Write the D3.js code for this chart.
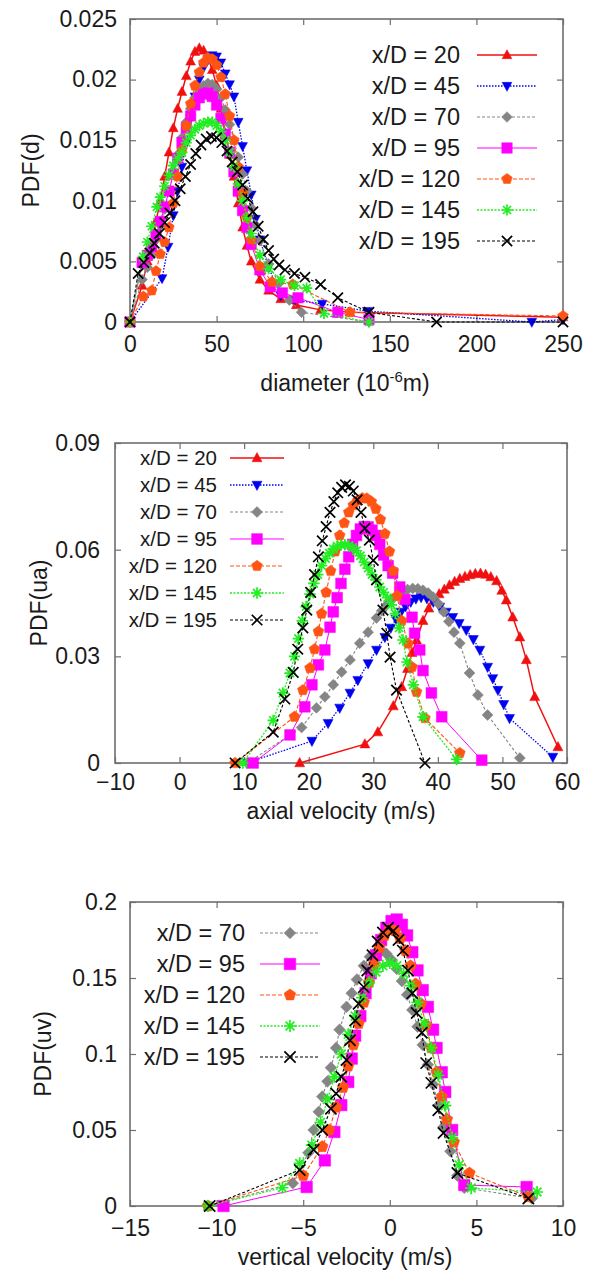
<!DOCTYPE html>
<html lang="en">
<head>
  <meta charset="UTF-8" />
  <title>Droplet PDFs</title>
  <script src="https://cdn.jsdelivr.net/npm/d3@7"></script>
  <style>
    body { margin: 0; background: #fff; }
    svg text { font-family: "Liberation Sans", Arial, sans-serif; fill: #1a1a1a; }
    .tick line { stroke: #6f6f6f; stroke-width: 1.2; }
    .frame { fill: none; stroke: #6f6f6f; stroke-width: 1.6; }
  </style>
</head>
<body>
<svg id="fig" width="595" height="1278"></svg>
<script>
  // ---- data (PDF values in units of 1e-3) ----
  const stations = [20, 45, 70, 95, 120, 145, 195];
  const legendNames = ["x/D = 20", "x/D = 45", "x/D = 70", "x/D = 95", "x/D = 120", "x/D = 145", "x/D = 195"];

  // top panel: PDF(d) vs diameter (1e-6 m)
  const diam20 = [[0,0],[7,3.0],[10,5.0],[12.5,6.5],[15,8.3],[17.5,10],[20,12],[22.5,14],[25,16],[27.5,17.6],[30,19],[32.5,20.3],[35,21.5],[37.5,22.3],[40,22.6],[42.5,22.4],[45,21.8],[47.5,20.8],[50,19.5],[52.5,17.6],[55,15.6],[57.5,13.8],[60,12],[62.5,9.8],[65,7.8],[67.5,6.3],[70,5.0],[75,3.5],[80,2.6],[87,1.9],[96,1.4],[110,1.0],[127,0.8],[250,0.4]];
  const diam45 = [[0,0],[18.5,3.6],[22,6.2],[25,8.8],[27.5,10.8],[30,12.8],[32.5,14.8],[35,16.8],[37.5,18.6],[40,20],[42.5,21],[45,21.7],[47.5,22],[50,21.9],[52.5,21.4],[55,20.5],[57.5,19.6],[60,18.6],[62.5,16.5],[65,14.5],[67.5,12.5],[70,10.5],[72.5,8.5],[75,6.8],[80,4.5],[87,2.2],[95,1.8],[111,1.5],[137,0.9],[232,0],[250,0.2]];
  const diam70 = [[0,0],[7,3.5],[10,4.5],[12.5,5.5],[15,6.8],[17.5,8],[20,9.3],[22.5,10.8],[25,12.3],[27.5,13.8],[30,15.2],[32.5,16.5],[35,17.6],[37.5,18.5],[40,19.1],[42.5,19.5],[45,19.7],[47.5,19.6],[50,19.2],[52.5,18.5],[55,17.5],[57.5,16.3],[60,15],[62.5,13.6],[65,12.2],[67.5,10.8],[70,9.4],[72.5,8.0],[75,6.7],[80,4.8],[86,3.2],[92,1.8],[99,0.8],[138,0]];
  const diam95 = [[0,0],[7,4.9],[10,5.5],[12.5,6.2],[15,7.2],[17.5,8.3],[20,9.5],[22.5,10.8],[25,12.2],[27.5,13.5],[30,14.8],[32.5,16.0],[35,17.0],[37.5,17.9],[40,18.5],[42.5,18.8],[45,18.9],[47.5,18.6],[50,17.9],[52.5,16.8],[55,15.5],[57.5,14],[60,12.4],[62.5,10.8],[65,9.2],[67.5,7.8],[70,6.4],[75,4.3],[81,2.9],[88,2.4],[97,2.0],[120,0.8],[138,0.2]];
  const diam120 = [[0,0],[7.7,2.1],[12.6,2.6],[15,4.2],[17.5,5.6],[20,6.6],[22.5,7.8],[25,9.8],[27.5,12],[30,14.2],[32.5,16.2],[35,18],[37.5,19.5],[40,20.6],[42.5,21.4],[45,21.8],[47.5,21.7],[50,21.2],[52.5,20.2],[55,18.8],[57.5,17],[60,15],[62.5,12.8],[65,10.6],[67.5,8.6],[70,6.8],[75,4.6],[82,3.3],[94,3.1],[127,0.8],[250,0.5]];
  const diam145 = [[0,0],[7.6,5.4],[10,6.6],[12.5,7.9],[15.5,9.5],[17.5,10.3],[20,11.2],[22.5,12.1],[25,12.9],[27.5,13.5],[30,14],[32.5,14.8],[35,15.4],[37.5,15.9],[40,16.2],[42.5,16.4],[45,16.5],[47.5,16.5],[50,16.2],[52.5,15.7],[55,15],[57.5,14],[60,12.8],[62.5,11.4],[65,10],[67.5,8.6],[70,7.3],[75,5.5],[80,4.4],[87,3.5],[95,3.0],[102,2.8],[112,0.7],[138,0]];
  const diam195 = [[0,0],[4.7,4.0],[8,4.9],[11.5,5.7],[14,6.5],[17,7.3],[20,8.2],[23,9.0],[26,10],[29,11],[32,12],[35,13],[38,13.9],[41,14.6],[44,15.1],[47,15.3],[50,15.2],[53,14.8],[56,14.1],[59,13.2],[62,12.4],[65,11.3],[68,10.2],[71,9.1],[74,7.9],[77,6.8],[80,5.9],[83,5.2],[86,4.7],[89.5,4.3],[95,4.0],[101,3.7],[110,3.1],[120,2.0],[138,0.8],[177,0],[250,0]];

  // middle panel: PDF(ua) vs axial velocity (m/s)
  const axial20 = [[18.6,0],[28.7,5.3],[30.7,8.7],[33.1,16],[34.4,21.4],[35.3,26.5],[36,31],[36.7,34.5],[37.7,40],[38.6,43.5],[39.4,45.8],[40.2,47.5],[41,48.8],[41.8,50],[42.6,51],[43.4,51.8],[44.2,52.4],[45,52.9],[45.8,53.2],[46.6,53.3],[47.4,53],[48.2,52.3],[49.1,51.2],[49.9,48.5],[50.6,45.8],[51.6,41],[52.7,35.4],[53.7,29],[55,18.6],[58.6,4.5]];
  const axial45 = [[10.4,0],[20.5,6.2],[23,11.2],[24.8,15.5],[26.4,19.7],[27.6,23.3],[29.2,28],[30.5,31.8],[31.8,35.4],[32.7,38],[33.5,40.5],[34.3,42.5],[35,44],[35.8,45.3],[36.6,46.2],[37.4,46.6],[38.3,46.3],[39.3,45.3],[40.3,43.9],[41.3,42.5],[42.3,41],[43.3,39.3],[44.4,37.4],[45.5,34.8],[46.5,31.8],[47.7,27],[48.5,23.8],[49.3,20.5],[50.2,16.5],[51.1,12.6],[57.8,1.7]];
  const axial70 = [[10.5,0],[18.9,10],[21.2,15.5],[22.5,18.6],[23.8,22],[25.1,25.6],[26.4,29],[27.9,33.7],[29.2,36.8],[30.5,40.8],[31.3,42.8],[32.1,44.5],[32.9,46],[33.7,47.2],[34.5,48.2],[35.3,48.8],[36.1,49.1],[36.9,49],[37.7,48.6],[38.5,47.8],[39.3,46.6],[40.1,44.8],[40.9,42.5],[41.7,39.8],[42.5,36.8],[43.4,33.7],[44.9,25.3],[46.2,19.1],[47.7,13.5],[52.7,1.4]];
  const axial95 = [[11.4,0],[17.1,7.9],[19.4,15.8],[20.5,22],[21.5,27.6],[22.5,31.8],[23.3,38.2],[23.8,42.5],[24.4,46.5],[25,50.5],[25.6,54.5],[26.2,58],[26.8,61.5],[27.4,64],[28,65.8],[28.6,66.5],[29.2,66.4],[29.8,65.5],[30.4,64],[31,61.5],[31.6,58.5],[32.3,55.5],[33,53.4],[34.1,49.5],[34.9,46],[36,41],[36.4,36.5],[37.2,31.8],[37.7,26],[39,19.7],[40.6,13],[46.8,0.8]];
  const axial120 = [[8.6,0],[17.8,13],[19.1,20.5],[20.2,26.7],[20.9,32],[21.5,37],[22,42],[22.7,48],[23.4,54],[24.1,59.5],[24.8,64],[25.5,67.5],[26.2,70.5],[26.9,72.5],[27.6,73.8],[28.3,74.5],[29,74.4],[29.7,73.5],[30.4,71.5],[31.1,68.5],[31.8,64.5],[32.5,59.5],[33.1,54],[33.7,47],[34.4,40],[35.4,33.6],[36,27],[36.7,20],[38,12.6],[43.4,2.8]];
  const axial145 = [[9.8,0],[14.5,12],[16,19.7],[17.1,25.3],[17.8,30],[18.4,35],[19,40],[19.6,44],[20.2,47.5],[20.8,50.5],[21.4,53],[22,55.5],[22.6,57.5],[23.2,59],[23.8,60.2],[24.4,61],[25,61.3],[25.6,61.4],[26.2,61.2],[26.8,60.6],[27.4,59.7],[28,58.3],[28.6,56.5],[29.2,54.8],[29.8,53],[30.4,51.5],[31,49.5],[31.6,48],[32.2,46.5],[32.8,44.5],[33.4,42],[34,38],[34.6,34.6],[35.2,28.4],[36.2,22],[37.7,13],[42.9,1]];
  const axial195 = [[8.6,0],[14.5,8.7],[16.3,18],[17.6,25.5],[18.3,32],[19.1,38],[19.7,43],[20.3,48],[20.9,53],[21.5,58],[22.1,62.5],[22.7,66.5],[23.3,70.5],[23.9,73.5],[24.5,76],[25.1,77.5],[25.7,78.2],[26.3,77.8],[26.9,76.5],[27.5,74],[28.1,70.5],[28.7,66],[29.4,62.7],[30,57],[30.5,51.5],[31.5,43],[32.1,36.5],[32.6,29.8],[33.6,20.5],[38,0]];

  // bottom panel: PDF(uv) vs vertical velocity (m/s)
  const vert70 = [[-10.5,0],[-5.6,15],[-4.7,35],[-4.4,50],[-4.1,62],[-3.9,72],[-3.6,82],[-3.4,91],[-3.1,104],[-2.9,116],[-2.5,131],[-2.2,140],[-1.9,149],[-1.5,158],[-1.15,164],[-0.8,167],[-0.5,168],[-0.2,166],[0.1,162],[0.4,156],[0.7,148],[1.0,139],[1.3,129],[1.6,118],[1.9,106],[2.2,93],[2.5,80],[2.8,66],[3.1,52],[3.5,36],[3.9,20],[4.3,12],[8.2,5]];
  const vert95 = [[-9.6,0],[-4.8,12.5],[-3.75,30],[-3.2,48.7],[-2.8,66.4],[-2.4,81.6],[-2.2,97],[-2.0,112],[-1.7,125],[-1.4,140],[-1.1,153],[-0.8,165],[-0.5,175],[-0.2,183],[0.1,187.5],[0.4,188.5],[0.7,185],[1.0,178],[1.3,167],[1.6,155],[1.9,142],[2.2,131],[2.5,116],[2.7,104],[3.0,88],[3.2,75],[3.6,50],[4.3,13.8],[7.9,12.5]];
  const vert120 = [[-10.5,0],[-5.0,20],[-3.9,39],[-3.5,50],[-3.1,65],[-2.7,78],[-2.4,92],[-2.1,106],[-1.8,120],[-1.5,134],[-1.2,147],[-0.9,159],[-0.6,170],[-0.3,178],[0,182],[0.3,181],[0.6,176],[0.9,168],[1.2,158],[1.5,146],[1.8,133],[2.1,119],[2.4,104],[2.7,88],[3.0,72],[3.3,57],[3.7,42],[4.6,21.7],[8.0,6]];
  const vert145 = [[-10.5,0],[-6.2,12],[-5.2,28],[-4.5,40],[-4.0,55],[-3.6,70],[-3.2,85],[-2.8,100],[-2.4,113],[-2.0,125],[-1.6,137],[-1.2,147],[-0.8,154],[-0.4,158],[0,160],[0.4,158],[0.8,153],[1.2,145],[1.6,134],[2.0,120],[2.4,104],[2.8,86],[3.2,66],[3.6,45],[4.0,27],[4.7,11.8],[8.5,9.2]];
  const vert195 = [[-10.4,0],[-5.2,23.7],[-4.4,37],[-3.9,50],[-3.4,64],[-3.1,74],[-2.8,85],[-2.5,96],[-2.3,109],[-2.0,122],[-1.8,133],[-1.5,144],[-1.3,155],[-1.0,165],[-0.7,174],[-0.4,180],[-0.1,183],[0.2,181],[0.5,175],[0.75,168],[1.05,155],[1.3,140],[1.55,127],[1.85,114],[2.1,94],[2.4,81],[2.8,63],[3.1,48],[3.9,21.7],[8.0,5]];

  // ticks
  const diamTicks = [0, 50, 100, 150, 200, 250];
  const pdfDTicks = [0, 5, 10, 15, 20, 25];
  const pdfDLabels = ["0", "0.005", "0.01", "0.015", "0.02", "0.025"];
  const axialTicks = [-10, 0, 10, 20, 30, 40, 50, 60];
  const pdfUaTicks = [0, 30, 60, 90];
  const pdfUaLabels = ["0", "0.03", "0.06", "0.09"];
  const vertTicks = [-15, -10, -5, 0, 5, 10];
  const pdfUvTicks = [0, 50, 100, 150, 200];
  const pdfUvLabels = ["0", "0.05", "0.1", "0.15", "0.2"];

  // ---- marker shapes (d3 custom symbol types) ----
  const triUp = { draw(c, s) { const r = Math.sqrt(s) / 2; c.moveTo(0, -1.1 * r); c.lineTo(r, 0.75 * r); c.lineTo(-r, 0.75 * r); c.closePath(); } };
  const triDown = { draw(c, s) { const r = Math.sqrt(s) / 2; c.moveTo(0, 1.1 * r); c.lineTo(r, -0.75 * r); c.lineTo(-r, -0.75 * r); c.closePath(); } };
  const diamond = { draw(c, s) { const r = Math.sqrt(s) / 2; c.moveTo(0, -r); c.lineTo(r, 0); c.lineTo(0, r); c.lineTo(-r, 0); c.closePath(); } };
  const square = { draw(c, s) { const r = Math.sqrt(s) / 2; c.rect(-r, -r, 2 * r, 2 * r); } };
  const pentagon = {
    draw(c, s) {
      const r = Math.sqrt(s) / 2;
      for (let i = 0; i < 5; i++) {
        const a = -Math.PI / 2 + i * 2 * Math.PI / 5;
        if (i === 0) c.moveTo(r * Math.cos(a), r * Math.sin(a));
        else c.lineTo(r * Math.cos(a), r * Math.sin(a));
      }
      c.closePath();
    }
  };
  const star = {
    draw(c, s) {
      const r = Math.sqrt(s) / 2, q = r * 0.72;
      c.moveTo(-r, 0); c.lineTo(r, 0); c.moveTo(0, -r); c.lineTo(0, r);
      c.moveTo(-q, -q); c.lineTo(q, q); c.moveTo(-q, q); c.lineTo(q, -q);
    }
  };
  const cross = { draw(c, s) { const r = Math.sqrt(s) / 2; c.moveTo(-r, -r); c.lineTo(r, r); c.moveTo(-r, r); c.lineTo(r, -r); } };

  // style per station
  const styles = {
    20:  { color: "#f01010", sym: triUp,    size: 100, dash: null,      lw: 1.5, stroked: false },
    45:  { color: "#0000f0", sym: triDown,  size: 100, dash: "1.5,1.5", lw: 1.3, stroked: false },
    70:  { color: "#858585", sym: diamond,  size: 120, dash: "3,2",     lw: 1.1, stroked: false },
    95:  { color: "#ff00ff", sym: square,   size: 115, dash: null,      lw: 1.0, stroked: false },
    120: { color: "#ff5414", sym: pentagon, size: 130, dash: "4,2",     lw: 1.1, stroked: false },
    145: { color: "#22ee22", sym: star,     size: 130, dash: "2,1.5",   lw: 1.3, stroked: true },
    195: { color: "#000000", sym: cross,    size: 110, dash: "3,2",     lw: 1.1, stroked: true }
  };

  const svg = d3.select("#fig");
  svg.append("rect").attr("width", 595).attr("height", 1278).attr("fill", "#fff");

  function drawMarkers(g, pts, st, scale) {
    g.selectAll(null).data(pts).join("path")
      .attr("transform", d => `translate(${d[0]},${d[1]})`)
      .attr("d", d3.symbol().type(st.sym).size(st.size * scale))
      .attr("fill", st.stroked ? "none" : st.color)
      .attr("stroke", st.color)
      .attr("stroke-width", st.stroked ? 1.7 : 0.5);
  }

  function panel(cfg) {
    const g = svg.append("g");
    const x = d3.scaleLinear().domain(cfg.xDom).range([cfg.left, cfg.right]);
    const y = d3.scaleLinear().domain(cfg.yDom).range([cfg.bottom, cfg.top]);

    // axes with inward ticks on all four sides
    const ax = g.append("g");
    ax.append("g").attr("transform", `translate(0,${cfg.bottom})`)
      .call(d3.axisBottom(x).tickValues(cfg.xTicks).tickSizeInner(-6).tickSizeOuter(0).tickPadding(cfg.xPad));
    ax.append("g").attr("transform", `translate(0,${cfg.top})`)
      .call(d3.axisTop(x).tickValues(cfg.xTicks).tickSizeInner(-6).tickSizeOuter(0).tickFormat(""));
    ax.append("g").attr("transform", `translate(${cfg.left},0)`)
      .call(d3.axisLeft(y).tickValues(cfg.yTicks).tickFormat((d, i) => cfg.yLabels[i])
        .tickSizeInner(-6).tickSizeOuter(0).tickPadding(cfg.yPad));
    ax.append("g").attr("transform", `translate(${cfg.right},0)`)
      .call(d3.axisRight(y).tickValues(cfg.yTicks).tickSizeInner(-6).tickSizeOuter(0).tickFormat(""));
    ax.selectAll(".domain").remove();
    ax.selectAll("text").attr("fill", "#1a1a1a")
      .style("font-family", "'Liberation Sans', Arial, sans-serif").style("font-size", "23px");

    g.append("rect").attr("class", "frame")
      .attr("x", cfg.left).attr("y", cfg.top)
      .attr("width", cfg.right - cfg.left).attr("height", cfg.bottom - cfg.top);

    // curves
    const line = d3.line().x(d => x(d[0])).y(d => y(d[1]));
    cfg.series.forEach(s => {
      const st = styles[s.station];
      g.append("path").datum(s.values)
        .attr("d", line).attr("fill", "none")
        .attr("stroke", st.color).attr("stroke-width", st.lw)
        .attr("stroke-dasharray", st.dash);
      drawMarkers(g.append("g"), s.values.map(d => [x(d[0]), y(d[1])]), st, cfg.mScale);
    });

    // legend
    const lg = g.append("g");
    cfg.series.forEach((s, i) => {
      const st = styles[s.station];
      const yy = cfg.leg.y0 + i * cfg.leg.step;
      lg.append("text").attr("x", cfg.leg.tx).attr("y", yy).attr("dy", "0.36em")
        .attr("text-anchor", "end").style("font-size", cfg.leg.fs + "px")
        .text(legendNames[stations.indexOf(s.station)]);
      lg.append("line").attr("x1", cfg.leg.x1).attr("x2", cfg.leg.x2).attr("y1", yy).attr("y2", yy)
        .attr("stroke", st.color).attr("stroke-width", st.lw).attr("stroke-dasharray", st.dash);
      drawMarkers(lg.append("g"), [[(cfg.leg.x1 + cfg.leg.x2) / 2, yy]], st, cfg.mScale);
    });

    // axis titles
    g.append("text").attr("transform", `translate(${cfg.yTitleX},${(cfg.top + cfg.bottom) / 2}) rotate(-90)`)
      .attr("text-anchor", "middle").attr("dy", "0.36em").style("font-size", "23px").text(cfg.yTitle);
    const xt = g.append("text").attr("x", cfg.xTitleX).attr("y", cfg.xTitleY + 8)
      .attr("text-anchor", "middle").style("font-size", "23px");
    cfg.xTitle(xt);
  }

  panel({
    left: 130, right: 563, top: 19, bottom: 322,
    xDom: [0, 250], yDom: [0, 25], xTicks: diamTicks, yTicks: pdfDTicks, yLabels: pdfDLabels,
    xPad: 14, yPad: 13, mScale: 0.95,
    series: [
      { station: 20, values: diam20 }, { station: 45, values: diam45 }, { station: 70, values: diam70 },
      { station: 95, values: diam95 }, { station: 120, values: diam120 }, { station: 145, values: diam145 },
      { station: 195, values: diam195 }
    ],
    leg: { tx: 460, x1: 477, x2: 537, y0: 55, step: 31, fs: 23.5 },
    yTitle: "PDF(d)", yTitleX: 31,
    xTitleX: 345, xTitleY: 383,
    xTitle: t => {
      t.append("tspan").text("diameter (10");
      t.append("tspan").attr("dy", -9).style("font-size", "15px").text("-6");
      t.append("tspan").attr("dy", 9).text("m)");
    }
  });

  panel({
    left: 115, right: 567, top: 443, bottom: 763,
    xDom: [-10, 60], yDom: [0, 90], xTicks: axialTicks, yTicks: pdfUaTicks, yLabels: pdfUaLabels,
    xPad: 11, yPad: 15, mScale: 1,
    series: [
      { station: 20, values: axial20 }, { station: 45, values: axial45 }, { station: 70, values: axial70 },
      { station: 95, values: axial95 }, { station: 120, values: axial120 }, { station: 145, values: axial145 },
      { station: 195, values: axial195 }
    ],
    leg: { tx: 217, x1: 230, x2: 284, y0: 458, step: 27, fs: 20.5 },
    yTitle: "PDF(ua)", yTitleX: 39,
    xTitleX: 341, xTitleY: 811,
    xTitle: t => t.text("axial velocity (m/s)")
  });

  panel({
    left: 130, right: 563, top: 902, bottom: 1206,
    xDom: [-15, 10], yDom: [0, 200], xTicks: vertTicks, yTicks: pdfUvTicks, yLabels: pdfUvLabels,
    xPad: 14, yPad: 13, mScale: 1.15,
    series: [
      { station: 70, values: vert70 }, { station: 95, values: vert95 }, { station: 120, values: vert120 },
      { station: 145, values: vert145 }, { station: 195, values: vert195 }
    ],
    leg: { tx: 245, x1: 260, x2: 320, y0: 933, step: 31, fs: 23.5 },
    yTitle: "PDF(uv)", yTitleX: 43,
    xTitleX: 345, xTitleY: 1257,
    xTitle: t => t.text("vertical velocity (m/s)")
  });
</script>
</body>
</html>
